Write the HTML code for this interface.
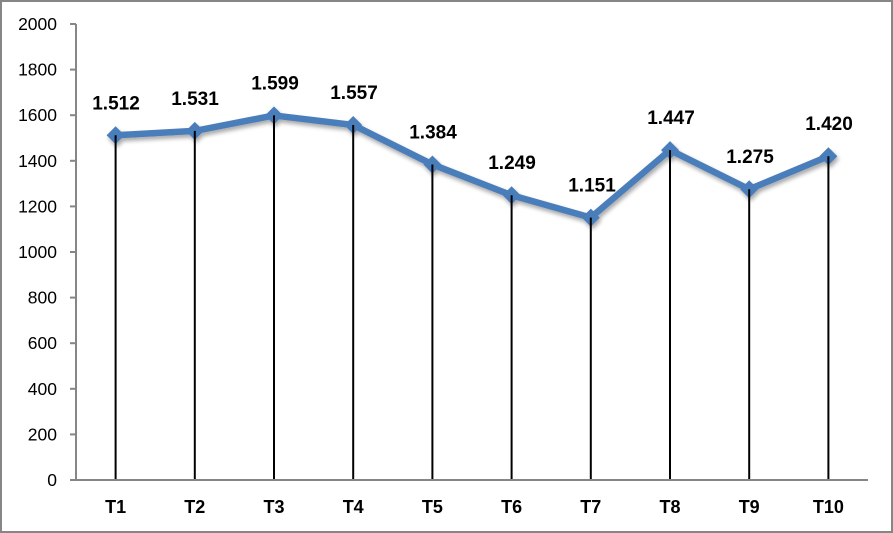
<!DOCTYPE html>
<html>
<head>
<meta charset="utf-8">
<style>
  html,body{margin:0;padding:0;background:#fff;}
  body{width:893px;height:533px;overflow:hidden;}
  svg{display:block;}
  text{font-family:"Liberation Sans", sans-serif;}
</style>
</head>
<body>
<svg width="893" height="533" viewBox="0 0 893 533" xmlns="http://www.w3.org/2000/svg">
  <defs>
    <filter id="sh" x="-10%" y="-20%" width="120%" height="160%">
      <feGaussianBlur in="SourceAlpha" stdDeviation="2.2"/>
      <feOffset dx="1.5" dy="3" result="b"/>
      <feComponentTransfer><feFuncA type="linear" slope="0.35"/></feComponentTransfer>
      <feMerge><feMergeNode/><feMergeNode in="SourceGraphic"/></feMerge>
    </filter>
  </defs>
  <rect x="0" y="0" width="893" height="533" fill="#fff"/>
  <rect x="1" y="1" width="891" height="531" fill="none" stroke="#868686" stroke-width="2"/>

  <!-- Y axis -->
  <line x1="76" y1="24" x2="76" y2="480" stroke="#868686" stroke-width="2"/>
  <g stroke="#868686" stroke-width="2">
    <line x1="70" y1="24" x2="76" y2="24"/>
    <line x1="70" y1="69.6" x2="76" y2="69.6"/>
    <line x1="70" y1="115.2" x2="76" y2="115.2"/>
    <line x1="70" y1="160.8" x2="76" y2="160.8"/>
    <line x1="70" y1="206.4" x2="76" y2="206.4"/>
    <line x1="70" y1="252" x2="76" y2="252"/>
    <line x1="70" y1="297.6" x2="76" y2="297.6"/>
    <line x1="70" y1="343.2" x2="76" y2="343.2"/>
    <line x1="70" y1="388.8" x2="76" y2="388.8"/>
    <line x1="70" y1="434.4" x2="76" y2="434.4"/>
    <line x1="70" y1="480" x2="76" y2="480"/>
  </g>
  <g font-size="17.5" fill="#000" text-anchor="end">
    <text x="57" y="30">2000</text>
    <text x="57" y="75.6">1800</text>
    <text x="57" y="121.2">1600</text>
    <text x="57" y="166.8">1400</text>
    <text x="57" y="212.4">1200</text>
    <text x="57" y="258">1000</text>
    <text x="57" y="303.6">800</text>
    <text x="57" y="349.2">600</text>
    <text x="57" y="394.8">400</text>
    <text x="57" y="440.4">200</text>
    <text x="57" y="486">0</text>
  </g>

  <!-- X axis -->
  <line x1="75" y1="480" x2="868" y2="480" stroke="#868686" stroke-width="2"/>
  <g font-size="18" font-weight="bold" fill="#000" text-anchor="middle">
    <text x="115.6" y="513">T1</text>
    <text x="194.8" y="513">T2</text>
    <text x="274" y="513">T3</text>
    <text x="353.2" y="513">T4</text>
    <text x="432.4" y="513">T5</text>
    <text x="511.6" y="513">T6</text>
    <text x="590.8" y="513">T7</text>
    <text x="670" y="513">T8</text>
    <text x="749.2" y="513">T9</text>
    <text x="828.4" y="513">T10</text>
  </g>

  <!-- Series -->
  <g filter="url(#sh)">
    <polyline fill="none" stroke="#4a7ebb" stroke-width="6.5" stroke-linejoin="round"
      points="115.6,135.26 194.8,130.93 274,115.43 353.2,125 432.4,164.45 511.6,195.23 590.8,217.57 670,150.08 749.2,189.3 828.4,156.24"/>
    <g fill="#4a7ebb">
      <polygon points="115.6,126.26 124.6,135.26 115.6,144.26 106.6,135.26"/>
      <polygon points="194.8,121.93 203.8,130.93 194.8,139.93 185.8,130.93"/>
      <polygon points="274,106.43 283,115.43 274,124.43 265,115.43"/>
      <polygon points="353.2,116 362.2,125 353.2,134 344.2,125"/>
      <polygon points="432.4,155.45 441.4,164.45 432.4,173.45 423.4,164.45"/>
      <polygon points="511.6,186.23 520.6,195.23 511.6,204.23 502.6,195.23"/>
      <polygon points="590.8,208.57 599.8,217.57 590.8,226.57 581.8,217.57"/>
      <polygon points="670,141.08 679,150.08 670,159.08 661,150.08"/>
      <polygon points="749.2,180.3 758.2,189.3 749.2,198.3 740.2,189.3"/>
      <polygon points="828.4,147.24 837.4,156.24 828.4,165.24 819.4,156.24"/>
    </g>
  </g>

  <!-- Drop lines -->
  <g stroke="#000" stroke-width="2">
    <line x1="115.6" y1="135.26" x2="115.6" y2="479"/>
    <line x1="194.8" y1="130.93" x2="194.8" y2="479"/>
    <line x1="274" y1="115.43" x2="274" y2="479"/>
    <line x1="353.2" y1="125" x2="353.2" y2="479"/>
    <line x1="432.4" y1="164.45" x2="432.4" y2="479"/>
    <line x1="511.6" y1="195.23" x2="511.6" y2="479"/>
    <line x1="590.8" y1="217.57" x2="590.8" y2="479"/>
    <line x1="670" y1="150.08" x2="670" y2="479"/>
    <line x1="749.2" y1="189.3" x2="749.2" y2="479"/>
    <line x1="828.4" y1="156.24" x2="828.4" y2="479"/>
  </g>

  <!-- Data labels -->
  <g font-size="19" font-weight="bold" fill="#000" text-anchor="middle">
    <text x="116" y="109.5">1.512</text>
    <text x="195" y="105">1.531</text>
    <text x="275" y="89.5">1.599</text>
    <text x="354" y="99">1.557</text>
    <text x="433" y="138.5">1.384</text>
    <text x="512" y="169">1.249</text>
    <text x="592" y="191.5">1.151</text>
    <text x="671" y="124">1.447</text>
    <text x="750" y="163">1.275</text>
    <text x="829" y="130">1.420</text>
  </g>
</svg>
</body>
</html>
